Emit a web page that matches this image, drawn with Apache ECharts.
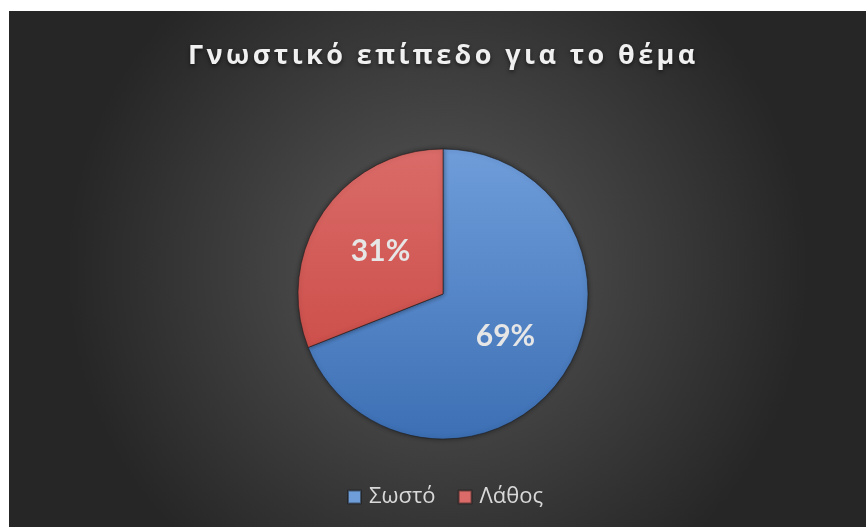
<!DOCTYPE html>
<html>
<head>
<meta charset="utf-8">
<script src="https://cdn.jsdelivr.net/npm/echarts@6/dist/echarts.min.js"></script>
<style>
  html, body { margin: 0; padding: 0; background: #ffffff; }
  #chart { width: 866px; height: 527px; }
</style>
</head>
<body>
<div id="chart"></div>
<script>
// Chart content
const titleText = 'Γνωστικό επίπεδο για το θέμα';
const categories = ['Σωστό', 'Λάθος'];
const percentages = [69, 31];

// Slice fills (top -> bottom shading)
const sliceColors = [
  ['#6f9dda', '#3c6fb4'],
  ['#da6b68', '#c7433e']
];

const chart = echarts.init(document.getElementById('chart'), null, { renderer: 'canvas' });

const cx = 443, cy = 294, r = 145;

function shade(pair) {
  return {
    type: 'linear', x: 0, y: cy - r, x2: 0, y2: cy + r, global: true,
    colorStops: [{ offset: 0, color: pair[0] }, { offset: 1, color: pair[1] }]
  };
}

const option = {
  backgroundColor: '#ffffff',
  animation: false,
  graphic: [{
    type: 'rect',
    z: -10,
    silent: true,
    shape: { x: 9, y: 11, width: 857, height: 516 },
    style: {
      fill: {
        type: 'radial', x: 0.5, y: 0.5, r: 0.72,
        colorStops: [
          { offset: 0, color: '#585858' },
          { offset: 1, color: '#262626' }
        ]
      }
    }
  }],
  title: {
    text: titleText,
    // the title sits on its own canvas layer so it can be letter-spaced
    zlevel: 1,
    left: 183,
    top: 38,
    textStyle: {
      fontFamily: 'Open Sans',
      fontWeight: 'bold',
      fontSize: 27,
      color: '#f0f0f0',
      textShadowColor: 'rgba(0,0,0,0.55)',
      textShadowBlur: 4,
      textShadowOffsetY: 2
    }
  },
  legend: {
    data: categories,
    left: 342,
    top: 481,
    icon: 'rect',
    itemWidth: 13,
    itemHeight: 13,
    itemGap: 22,
    textStyle: { fontFamily: 'Open Sans', fontSize: 22, color: '#d9d9d9', padding: [0, 0, 0, 3] }
  },
  series: [{
    type: 'pie',
    center: [cx, cy],
    radius: r,
    startAngle: 90,
    clockwise: true,
    data: categories.map((name, i) => ({
      name,
      value: percentages[i],
      itemStyle: { color: shade(sliceColors[i]) }
    })),
    itemStyle: {
      borderColor: 'rgba(25,25,25,0.55)',
      borderWidth: 1,
      shadowColor: 'rgba(0,0,0,0.45)',
      shadowBlur: 5
    },
    label: {
      show: true,
      position: 'inside',
      formatter: p => p.value + '%',
      fontFamily: 'Lato',
      fontWeight: 'bold',
      fontSize: 30,
      color: '#e6e6e6'
    },
    labelLine: { show: false },
    emphasis: { disabled: true }
  }]
};

chart.setOption(option);

// Letter-space the title layer, then redraw it
const titleLayer = chart.getZr().painter.getLayer(1);
if (titleLayer && titleLayer.ctx) {
  titleLayer.ctx.letterSpacing = '3.4px';
}
chart.setOption({ title: { text: titleText } });
</script>
</body>
</html>
